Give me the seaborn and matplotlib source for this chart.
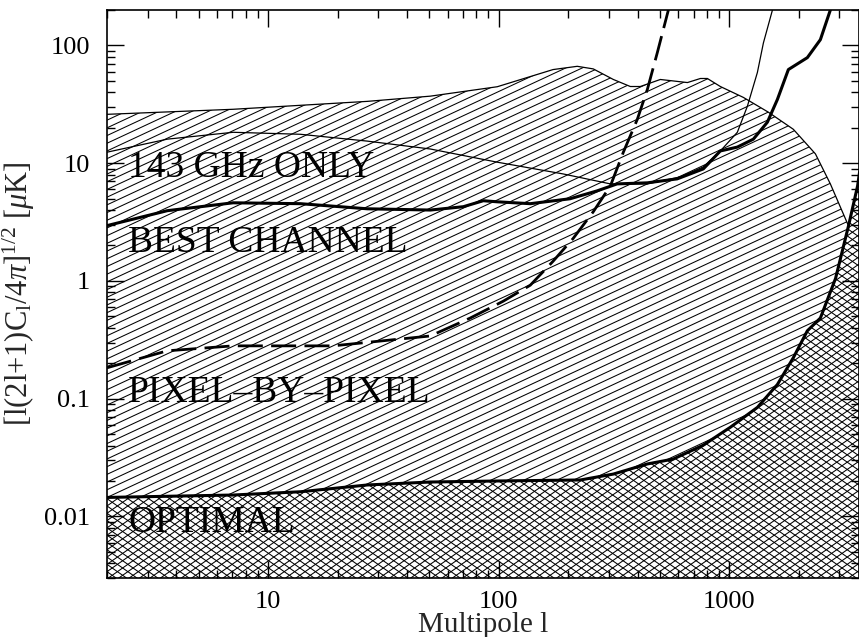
import numpy as np
import matplotlib
matplotlib.use("Agg")
import matplotlib.pyplot as plt
import seaborn as sns
from matplotlib.collections import LineCollection
from matplotlib.ticker import LogLocator, NullFormatter

# upper edge of the diagonally hatched region (thin line)
upper_l = [2.0, 7.05, 26.9, 50.5, 98.5, 172, 219, 257, 314, 372, 411, 502,
           658, 749, 803, 914, 1150, 1477, 1895, 2362, 2742, 3283]
upper_v = [26.0, 28.7, 33.5, 37.1, 44.6, 62.4, 66.5, 63.2, 51.4, 44.8, 44.8,
           51.4, 48.4, 52.4, 52.4, 44.8, 36.2, 27.1, 19.4, 12.0, 6.67, 2.95]

# OPTIMAL curve (top of the cross-hatched region)
opt_l = [2.0, 7.05, 13.8, 26.9, 50.5, 98.5, 226, 314, 441, 571, 771, 1009,
         1323, 1616, 1895, 2179, 2482, 2888, 3289, 3600, 3670]
opt_v = [0.0145, 0.0152, 0.0162, 0.0185, 0.0196, 0.0200, 0.0204, 0.0229,
         0.0279, 0.0307, 0.0403, 0.0571, 0.0843, 0.132, 0.223, 0.377, 0.484,
         1.05, 2.95, 6.43, 8.4]

# BEST CHANNEL curve
best_l = [2.0, 3.65, 7.05, 13.8, 26.9, 50.5, 70.2, 85.7, 98.5, 137, 204, 267,
          326, 441, 594, 771, 914, 1083, 1271, 1462, 1616, 1803, 2179, 2482, 2742]
best_v = [2.95, 3.95, 4.61, 4.53, 4.10, 4.0, 4.27, 4.80, 4.70, 4.53, 4.99,
          5.82, 6.67, 6.81, 7.36, 8.94, 12.7, 13.7, 16.0, 22.3, 34.8, 62.4,
          78.8, 112, 200]

# 143 GHz ONLY curve
ghz_l = [2.0, 3.65, 7.05, 13.8, 26.9, 50.5, 98.5, 190.5, 305, 441, 613, 771,
         914, 1083, 1197, 1323, 1405, 1538]
ghz_v = [12.4, 16.0, 18.3, 17.6, 15.4, 13.2, 10.2, 8.1, 6.67, 6.67, 7.65, 9.3,
         12.7, 18.3, 30.4, 58.9, 105, 200]

# PIXEL-BY-PIXEL curve (dashed)
pix_l = [2.0, 3.65, 7.05, 19.1, 50.5, 75.2, 104.6, 137, 172, 210, 257, 305,
         347, 399, 441, 487, 544]
pix_v = [0.183, 0.255, 0.281, 0.281, 0.341, 0.484, 0.673, 0.92, 1.47, 2.29,
         3.87, 6.43, 12.4, 23.6, 42.3, 86.7, 200]

xlim = (2.0, 3650)
ylim = (0.003, 200)
yticks = [0.01, 0.1, 1, 10, 100]
ytick_labels = ["0.01", "0.1", "1", "10", "100"]
xticks = [10, 100, 1000]
xtick_labels = ["10", "100", "1000"]

labels = ["143 GHz ONLY", "BEST CHANNEL", "PIXEL\u2013BY\u2013PIXEL", "OPTIMAL"]
label_y = [0.706, 0.574, 0.310, 0.081]

sns.set_theme(style="ticks")
plt.rcParams['font.family'] = ['Liberation Serif', 'DejaVu Serif']
plt.rcParams['mathtext.fontset'] = 'custom'
plt.rcParams['mathtext.rm'] = 'Liberation Serif'
plt.rcParams['mathtext.it'] = 'Liberation Serif:italic'
plt.rcParams['lines.scale_dashes'] = False

W, H = 859, 637
fig = plt.figure(figsize=(W / 100, H / 100), dpi=100)
left, right, top, bottom = 107, 859, 10, 578
ax = fig.add_axes([left / W, 1 - bottom / H, (right - left) / W, (bottom - top) / H])
ax.set_xscale('log')
ax.set_yscale('log')
ax.set_xlim(*xlim)
ax.set_ylim(*ylim)
w_px, h_px = right - left, bottom - top


def add_hatch(patch, angle, step_px, lw=0.75):
    # straight hatch lines across the axes, clipped to the region
    t = np.tan(np.radians(angle))
    span = abs(t) * w_px
    segs = []
    for c in np.arange(-span - step_px, h_px + span + step_px, step_px):
        segs.append([(0, c / h_px), (1, (c + t * w_px) / h_px)])
    lc = LineCollection(segs, transform=ax.transAxes, colors='black',
                        linewidths=lw, zorder=1)
    ax.add_collection(lc)
    lc.set_clip_path(patch)


# diagonal region: upper edge then back along the optimal curve
back_l = [l for l in opt_l if l <= 3289][::-1]
back_v = [v for l, v in zip(opt_l, opt_v) if l <= 3289][::-1]
diag = ax.fill(upper_l + back_l, upper_v + back_v, facecolor='none',
               edgecolor='none')[0]
add_hatch(diag, 25, 7.7)

# cross-hatched region below the optimal curve
cross = ax.fill(opt_l + [opt_l[-1], opt_l[0]], opt_v + [ylim[0], ylim[0]],
                facecolor='none', edgecolor='none')[0]
add_hatch(cross, 35, 7.3)
add_hatch(cross, -35, 7.3)

sns.lineplot(x=upper_l, y=upper_v, ax=ax, color='black', lw=0.9,
             estimator=None, sort=False, zorder=3)
sns.lineplot(x=ghz_l, y=ghz_v, ax=ax, color='black', lw=0.9,
             estimator=None, sort=False, zorder=3)
sns.lineplot(x=best_l, y=best_v, ax=ax, color='black', lw=2.2,
             estimator=None, sort=False, zorder=4)
sns.lineplot(x=opt_l, y=opt_v, ax=ax, color='black', lw=2.2,
             estimator=None, sort=False, zorder=4)
sns.lineplot(x=pix_l, y=pix_v, ax=ax, color='black', lw=2.0,
             estimator=None, sort=False, zorder=4, dashes=False,
             linestyle=(0, (18, 6)))

ax.set_xlim(*xlim)
ax.set_ylim(*ylim)

for txt, yy in zip(labels, label_y):
    ax.text(0.028, yy, txt, transform=ax.transAxes, fontsize=27,
            va='baseline', ha='left', color='black', zorder=5)

ax.set_xticks(xticks)
ax.set_xticklabels(xtick_labels)
ax.set_yticks(yticks)
ax.set_yticklabels(ytick_labels)
ax.xaxis.set_minor_locator(LogLocator(base=10, subs=np.arange(2, 10)))
ax.yaxis.set_minor_locator(LogLocator(base=10, subs=np.arange(2, 10)))
ax.xaxis.set_minor_formatter(NullFormatter())
ax.yaxis.set_minor_formatter(NullFormatter())
ax.tick_params(which='both', direction='in', top=True, right=True,
               colors='black', labelsize=19, width=1.0)
ax.tick_params(which='major', length=12)
ax.tick_params(which='minor', length=6)
ax.tick_params(axis='y', which='major', pad=12)
ax.tick_params(axis='x', which='major', pad=9)
for s in ax.spines.values():
    s.set_linewidth(1.2)
    s.set_color('black')

ax.set_xlabel("Multipole l", fontsize=21)
ax.set_ylabel(r"[l(2l+1)C$_{\rm l}$/4$\pi$]$^{1/2}$ [$\mu$K]", fontsize=22)
ax.xaxis.set_label_coords(0.5, -0.060)
ax.yaxis.set_label_coords(-0.093, 0.5)

fig.savefig("out.png", dpi=100)
